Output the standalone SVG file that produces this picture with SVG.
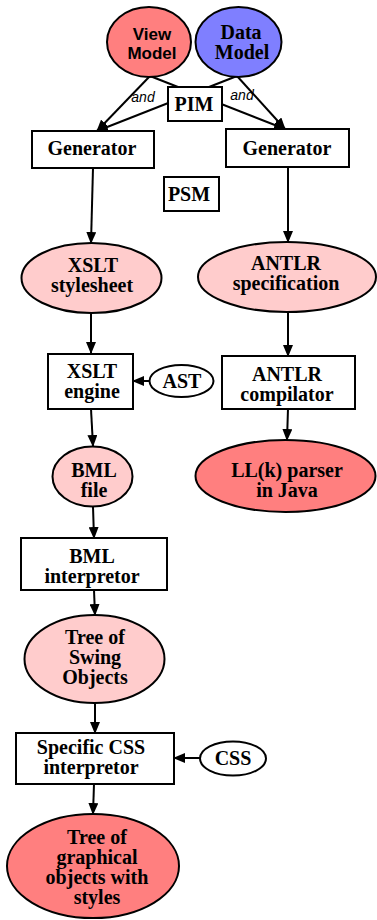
<svg xmlns="http://www.w3.org/2000/svg" width="377" height="920" viewBox="0 0 377 920">
<style>
.s{stroke:#000;stroke-width:2;}
.box{fill:#fff;stroke:#000;stroke-width:2;}
.w{fill:#fff;}
.pk{fill:#ffcccc;}
.rd{fill:#ff7f7f;}
.bl{fill:#7f7fff;}
.t{font-family:"Liberation Serif","Times New Roman",serif;font-weight:bold;font-size:20px;text-anchor:middle;fill:#000;}
.h{font-family:"Liberation Sans",Arial,sans-serif;font-weight:bold;font-size:17px;text-anchor:middle;fill:#000;}
.a{font-family:"Liberation Sans",Arial,sans-serif;font-style:italic;font-size:14px;text-anchor:middle;fill:#000;}
.c{stroke:#000;stroke-width:2;fill:none;marker-end:url(#ah);}
</style>
<defs>
<marker id="ah" markerUnits="userSpaceOnUse" markerWidth="12" markerHeight="10" refX="11" refY="5" orient="auto" viewBox="0 0 12 10">
<path d="M0,0 L12,5 L0,10 z" fill="#000"/>
</marker>
</defs>
<g id="connectors">
<line class="c" x1="150" y1="76" x2="97" y2="131"/>
<line class="c" x1="237" y1="76" x2="97" y2="131"/>
<line class="c" x1="150" y1="76" x2="285" y2="129"/>
<line class="c" x1="237" y1="76" x2="285" y2="129"/>
<line class="c" x1="93" y1="168" x2="91" y2="243"/>
<line class="c" x1="288" y1="167" x2="288" y2="242"/>
<line class="c" x1="91" y1="313" x2="91" y2="353"/>
<line class="c" x1="288" y1="312" x2="288" y2="356"/>
<line class="c" x1="91" y1="409" x2="93" y2="446"/>
<line class="c" x1="288" y1="409" x2="287" y2="440"/>
<line class="c" x1="93" y1="507" x2="94" y2="538"/>
<line class="c" x1="94" y1="590" x2="95" y2="615"/>
<line class="c" x1="95" y1="703" x2="95" y2="733"/>
<line class="c" x1="94" y1="784" x2="93" y2="814"/>
<line class="c" x1="149" y1="381" x2="133" y2="381"/>
<line class="c" x1="200" y1="758" x2="174" y2="758"/>
<text class="a" x="143" y="102">and</text>
<text class="a" x="242" y="100">and</text>
</g>
<g id="view-model">
<ellipse class="s rd" cx="149" cy="42" rx="42" ry="35"/>
<text class="h" x="152" y="40">View</text>
<text class="h" x="152" y="59">Model</text>
</g>
<g id="data-model">
<ellipse class="s bl" cx="238.5" cy="42" rx="43" ry="35"/>
<text class="t" x="241" y="39">Data</text>
<text class="t" x="242" y="59">Model</text>
</g>
<g id="pim">
<rect class="box" x="168" y="87" width="54" height="34"/>
<text class="t" x="194" y="111">PIM</text>
</g>
<g id="generator-left">
<rect class="box" x="32" y="131" width="122" height="37"/>
<text class="t" x="92" y="155">Generator</text>
</g>
<g id="generator-right">
<rect class="box" x="226" y="129" width="123" height="38"/>
<text class="t" x="287" y="155">Generator</text>
</g>
<g id="psm">
<rect class="box" x="164" y="177" width="55" height="34"/>
<text class="t" x="189" y="201">PSM</text>
</g>
<g id="xslt-stylesheet">
<ellipse class="s pk" cx="91.5" cy="278" rx="70" ry="35"/>
<text class="t" x="93" y="272">XSLT</text>
<text class="t" x="92" y="292">stylesheet</text>
</g>
<g id="antlr-specification">
<ellipse class="s pk" cx="287" cy="277" rx="89" ry="35"/>
<text class="t" x="286" y="270">ANTLR</text>
<text class="t" x="286" y="290">specification</text>
</g>
<g id="xslt-engine">
<rect class="box" x="48" y="354" width="85" height="55"/>
<text class="t" x="92" y="378">XSLT</text>
<text class="t" x="92" y="398">engine</text>
</g>
<g id="ast">
<ellipse class="s w" cx="181.5" cy="381" rx="32" ry="16"/>
<text class="t" x="182" y="388">AST</text>
</g>
<g id="antlr-compilator">
<rect class="box" x="222" y="356" width="133" height="53"/>
<text class="t" x="287" y="381">ANTLR</text>
<text class="t" x="287" y="401">compilator</text>
</g>
<g id="bml-file">
<ellipse class="s pk" cx="92.5" cy="476.5" rx="40" ry="30"/>
<text class="t" x="94" y="477">BML</text>
<text class="t" x="94" y="497">file</text>
</g>
<g id="llk-parser">
<ellipse class="s rd" cx="285.5" cy="476" rx="90" ry="36"/>
<text class="t" x="287" y="477">LL(k) parser</text>
<text class="t" x="287" y="497">in Java</text>
</g>
<g id="bml-interpretor">
<rect class="box" x="21" y="538" width="146" height="52"/>
<text class="t" x="92" y="563">BML</text>
<text class="t" x="92" y="583">interpretor</text>
</g>
<g id="tree-swing">
<ellipse class="s pk" cx="94.5" cy="659" rx="70" ry="44"/>
<text class="t" x="95" y="644">Tree of</text>
<text class="t" x="95" y="664">Swing</text>
<text class="t" x="95" y="684">Objects</text>
</g>
<g id="css-interpretor">
<rect class="box" x="16" y="733" width="158" height="51"/>
<text class="t" x="91" y="754">Specific CSS</text>
<text class="t" x="91" y="774">interpretor</text>
</g>
<g id="css">
<ellipse class="s w" cx="233" cy="758.5" rx="33" ry="17"/>
<text class="t" x="233" y="765">CSS</text>
</g>
<g id="tree-graphical">
<ellipse class="s rd" cx="93" cy="866" rx="86" ry="52"/>
<text class="t" x="97" y="844">Tree of</text>
<text class="t" x="97" y="864">graphical</text>
<text class="t" x="97" y="884">objects with</text>
<text class="t" x="97" y="904">styles</text>
</g>
</svg>
